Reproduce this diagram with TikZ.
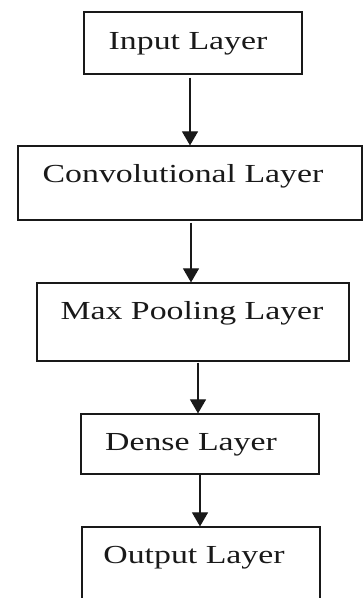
\documentclass[tikz,border=0pt]{standalone}
\usepackage{fontspec}
\usepackage{graphicx}
\setmainfont{Liberation Serif}
\usetikzlibrary{arrows.meta}
\newcommand{\wide}[1]{\scalebox{1.3}[1]{#1}}
\begin{document}
\begin{tikzpicture}[x=1pt,y=1pt,
  layerbox/.style={draw=black!90,line width=1.2pt,rectangle,inner sep=0pt},
  layertext/.style={anchor=base,inner sep=0pt,font=\fontsize{26}{30}\selectfont,text=black!90},
  flow/.style={draw=black!90,line width=1.1pt,-{Triangle[length=14pt,width=16pt]}}]
\useasboundingbox (0,0) rectangle (364,-598);
\clip (0,0) rectangle (364,-598);
\node[layerbox,minimum width=218pt,minimum height=62pt] (b1) at (193,-43) {};
\node[layerbox,minimum width=344pt,minimum height=74pt] (b2) at (190,-183) {};
\node[layerbox,minimum width=312pt,minimum height=78pt] (b3) at (193,-322) {};
\node[layerbox,minimum width=238pt,minimum height=60pt] (b4) at (200,-444) {};
\node[layerbox,minimum width=238pt,minimum height=84pt] (b5) at (201,-569) {};
\node[layertext] (t1) at (188,-49) {\wide{Input Layer}};
\node[layertext] (t2) at (183,-182) {\wide{Convolutional Layer}};
\node[layertext] (t3) at (192,-319) {\wide{Max Pooling Layer}};
\node[layertext] (t4) at (191,-450) {\wide{Dense Layer}};
\node[layertext] (t5) at (194,-563) {\wide{Output Layer}};
\draw[flow] ([xshift=-3pt,yshift=-3pt]b1.south) -- ([xshift=-3pt]b1.south |- b2.north);
\draw[flow] ([xshift=1pt,yshift=-2pt]b2.south) -- ([xshift=1pt]b2.south |- b3.north);
\draw[flow] ([xshift=5pt,yshift=-1pt]b3.south) -- ([xshift=5pt]b3.south |- b4.north);
\draw[flow] ([xshift=0pt]b4.south) -- ([xshift=0pt]b4.south |- b5.north);
\end{tikzpicture}
\end{document}
